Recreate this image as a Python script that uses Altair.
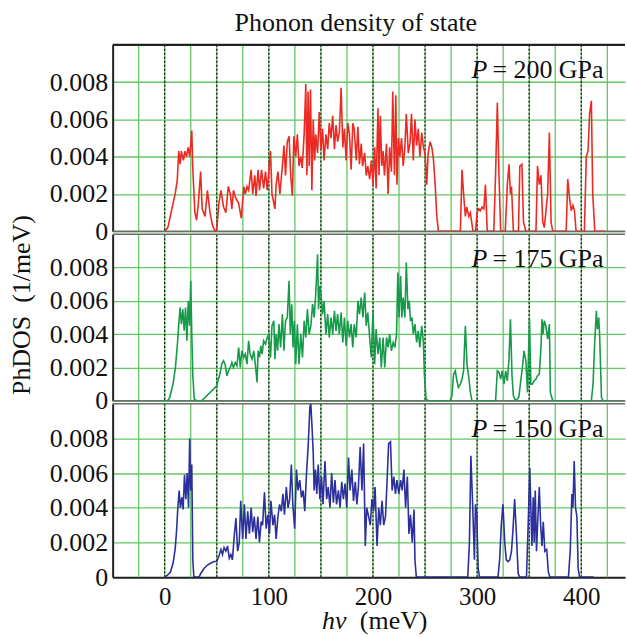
import altair as alt
import pandas as pd

# ---------------- data (energy meV, PhDOS in 1e-3 / meV) ----------------
x_grid = list(range(-25, 426, 25))
x_dotted = list(range(0, 401, 50))
y_ticks = [0, 0.002, 0.004, 0.006, 0.008]
x_labels = [0, 100, 200, 300, 400]

dos_200 = [
    (0, 0), (3, 0.2), (8, 1.5), (10, 2.0), (12, 2.7), (13.5, 4.3), (14.8, 3.6), (16, 4.3), (18, 3.8),
    (19.4, 4.3), (21, 4.0), (22.5, 4.5), (24, 4.0), (26, 5.4), (26.8, 3.6), (27.7, 2.5), (29, 1.0),
    (30.6, 0.6), (32.3, 1.5), (34.5, 3.2), (36, 1.2), (38.7, 0.8), (41, 2.2), (43.5, 1.0), (46, 0.3),
    (48.4, 0.0), (50, 0.1), (52, 1.5), (54, 2.2), (56.5, 1.3), (58.7, 1.0), (61, 2.4), (63, 2.0),
    (64.5, 1.2), (66, 2.2), (68, 1.8), (71, 1.5), (73.5, 0.7), (76, 2.4), (77.4, 2.0), (79, 2.4),
    (80.6, 2.2), (83, 3.3), (84.5, 2.0), (86.5, 3.0), (87.7, 1.9), (89.7, 3.3), (91, 2.2), (93, 3.3),
    (95, 2.3), (96.8, 3.2), (98.4, 2.2), (101.6, 4.3), (103, 2.0), (105.8, 1.2), (107, 2.5), (108.7, 3.2),
    (110.6, 2.0), (113, 3.5), (114.5, 4.6), (116, 3.0), (117.7, 4.8), (119.4, 5.1), (121, 3.0),
    (122.6, 1.9), (124, 5.1), (125.8, 4.0), (127.4, 5.2), (129, 3.5), (130.6, 4.0), (132, 3.4),
    (133.9, 5.2), (135.5, 7.9), (136.5, 3.0), (137.7, 7.5), (138.7, 3.5), (140, 7.6), (141.3, 2.2),
    (142.6, 6.0), (144, 3.8), (145, 5.2), (146.8, 4.2), (148.4, 6.4), (150, 4.4), (151.6, 5.5),
    (153, 3.8), (154.8, 5.2), (156.5, 4.4), (158, 5.8), (159.7, 5.0), (161.3, 6.2), (163, 4.4),
    (164.5, 5.7), (166, 4.8), (167.7, 5.3), (169.4, 7.7), (171, 4.5), (172.6, 5.5), (174.2, 3.8),
    (175.8, 5.8), (177.4, 5.2), (179, 3.3), (180.6, 5.8), (182, 5.5), (183.9, 3.8), (185.5, 5.6),
    (187, 3.6), (188.7, 4.7), (190, 3.5), (192, 4.2), (193.5, 3.0), (195, 3.5), (196.8, 2.8),
    (198.4, 3.8), (200, 2.5), (201.6, 4.5), (203, 2.3), (204.8, 6.6), (205.8, 3.0), (207, 6.2),
    (208.4, 3.5), (209.7, 4.3), (211, 3.0), (213, 4.7), (214.5, 2.0), (216, 4.5), (217.7, 3.2),
    (219, 7.5), (220.6, 3.0), (221.9, 7.3), (223, 2.5), (224.5, 5.0), (225.8, 4.0), (227.4, 5.0),
    (229, 3.5), (230.6, 4.5), (232, 6.3), (233.9, 4.2), (235.5, 4.7), (237, 6.3), (238.7, 3.8),
    (240.3, 6.0), (241.9, 4.6), (243.5, 5.5), (245, 4.0), (246.8, 5.3), (248.4, 4.5), (250, 4.2),
    (251.6, 2.5), (253, 4.2), (254.8, 4.8), (256.5, 4.5), (258, 3.9), (259.7, 2.5), (261.3, 0.8),
    (262.9, 0), (283.9, 0), (285.5, 3.3), (287, 2.0), (288.7, 0.8), (290, 1.3), (292, 0.8), (293.5, 1.0),
    (296, 0), (298.4, 0), (300, 1.0), (301.6, 1.2), (303, 1.1), (304.8, 1.3), (306.5, 1.2), (308, 2.5),
    (309.7, 0), (316, 0), (317.7, 3.0), (319.4, 6.9), (321, 3.0), (322.6, 0), (327, 0), (329, 2.5),
    (330.6, 3.6), (332, 2.0), (333, 2.4), (334.8, 0), (339.7, 0), (341, 3.5), (343, 3.6), (344.5, 0.5),
    (346.8, 0), (356.5, 0), (358, 3.5), (359.7, 2.5), (361.3, 3.0), (363, 0.5), (364.5, 0.2),
    (367.7, 2.0), (369.4, 5.3), (371, 0.5), (372.6, 0), (385.5, 0), (387, 2.8), (388.7, 1.8),
    (390.3, 1.1), (392, 1.4), (393.5, 1.1), (395, 0), (403, 0), (404.8, 4.0), (406.5, 4.3), (408, 6.3),
    (409.7, 7.0), (411, 2.0), (413, 0), (422.6, 0),
]

dos_175 = [
    (-4.8, 0), (3, 0), (4.8, 0.2), (8, 1.0), (10.3, 2.0), (12.3, 3.5), (13.5, 4.6), (14.8, 5.6),
    (16, 4.6), (17.4, 5.5), (18.7, 4.2), (20, 5.6), (21.3, 3.6), (22.6, 6.0), (23.9, 4.5), (25, 7.2),
    (26, 4.0), (27, 1.5), (28.4, 0.1), (30.6, 0), (35.5, 0), (50, 0.9), (51.6, 1.3), (53, 1.6),
    (54.8, 2.2), (56.5, 2.4), (58, 2.2), (59.7, 1.5), (61.3, 1.8), (63, 2.0), (64.5, 2.3), (66, 2.0),
    (67.7, 2.3), (69.4, 2.1), (71, 3.2), (72.6, 2.0), (74, 3.0), (75.8, 2.6), (77.4, 2.8), (79, 2.2),
    (80.6, 3.6), (82, 2.8), (83.9, 2.5), (85.5, 3.0), (87, 2.2), (88.7, 1.1), (89.7, 3.0), (91, 2.6),
    (92.3, 3.3), (93.5, 2.8), (95, 3.6), (96.8, 3.4), (98.4, 3.8), (100, 4.0), (101.6, 2.6), (103, 4.5),
    (104.8, 4.8), (105.8, 2.5), (107, 4.0), (108.4, 3.0), (109.7, 4.6), (111.3, 3.2), (113, 5.2),
    (114.5, 3.0), (116, 4.8), (117.7, 5.0), (119.4, 7.2), (120.6, 4.0), (122, 5.8), (123.2, 3.2),
    (124.5, 4.8), (125.8, 2.2), (127.4, 4.6), (129, 2.2), (130.6, 4.0), (132.3, 2.6), (133.9, 4.8),
    (135.5, 3.8), (137, 5.5), (138.7, 4.0), (140.3, 4.5), (142, 5.8), (143.5, 5.0), (145, 6.4),
    (146.8, 8.8), (147.7, 5.5), (149, 6.9), (150.3, 6.2), (151.6, 5.2), (153, 6.0), (154.8, 4.0),
    (156.5, 5.2), (158, 3.8), (159.7, 5.0), (161.3, 4.0), (163, 5.4), (164.5, 4.2), (166, 5.2),
    (167.7, 4.0), (169.4, 5.3), (171, 3.5), (172.6, 5.0), (174.2, 3.3), (175.8, 4.8), (177.4, 3.8),
    (179, 4.6), (180.6, 3.2), (182, 4.6), (183.9, 3.8), (185.5, 6.0), (187, 5.2), (188.7, 6.2),
    (190.3, 5.0), (192, 6.5), (193.5, 4.5), (195, 5.3), (196.8, 3.8), (198.4, 2.6), (200, 5.4),
    (201.6, 2.2), (203, 4.3), (204.8, 2.8), (206.5, 3.8), (208, 2.0), (209.7, 3.8), (211.3, 2.0),
    (213, 3.8), (214.5, 3.2), (216, 4.0), (217.7, 3.0), (219.4, 3.5), (221, 3.2), (222.6, 4.0),
    (223.9, 7.7), (225, 5.0), (226.5, 7.5), (227.7, 5.0), (229, 6.2), (230.6, 5.0), (232, 8.3),
    (233.5, 5.5), (234.8, 6.0), (236, 4.8), (237.4, 5.0), (238.7, 4.0), (240.3, 4.6), (241.9, 3.5),
    (243.5, 4.2), (245, 3.2), (246.8, 4.5), (248.4, 3.5), (249.4, 1.5), (251, 0.1), (253, 0),
    (274, 0), (275.8, 0.3), (277.4, 1.6), (279, 1.8), (280.6, 1.2), (282, 0.8), (283.9, 1.0),
    (285.5, 1.3), (287, 1.8), (288.7, 4.5), (290.3, 2.2), (292, 1.4), (293.5, 0.5), (295, 0),
    (317.7, 0), (319.4, 1.8), (321, 1.7), (322.6, 1.3), (324, 1.8), (325.8, 1.0), (327.4, 1.8),
    (329, 1.2), (330.6, 2.5), (332, 4.9), (333.5, 1.5), (334.8, 0.3), (337, 0), (340, 0.2),
    (341.9, 1.2), (343.5, 2.0), (345, 3.0), (346.8, 2.4), (348.4, 0.5), (349.4, 3.0), (350.3, 4.9),
    (351.6, 1.0), (353, 1.0), (354.8, 1.2), (356.5, 1.3), (358, 1.5), (359.7, 1.6), (361.3, 3.2),
    (362.3, 4.9), (363.2, 4.0), (364.5, 4.8), (366, 4.5), (367.7, 3.7), (369.4, 4.6), (370.3, 0.5),
    (372.6, 0), (409.7, 0), (411.3, 1.0), (412.9, 3.5), (414.5, 5.4), (415.5, 4.3), (416.8, 5.0),
    (417.7, 3.8), (419.4, 0.2), (421, 0), (427.4, 0),
]

dos_150 = [
    (0, 0), (2.3, 0.1), (5.5, 0.3), (8, 0.8), (10, 1.6), (11.3, 2.6), (12.6, 4.0), (13.9, 5.0),
    (15, 4.0), (16.5, 4.6), (17.7, 3.9), (19, 5.9), (20.3, 4.5), (21.6, 6.0), (22.9, 4.0), (24, 8.0),
    (25, 5.0), (26, 6.5), (27, 1.0), (28, 0), (33, 0), (34.5, 0.2), (37.7, 0.5), (41, 0.7), (44, 0.8),
    (47.4, 0.9), (50, 0.9), (52, 1.2), (54, 1.6), (55.5, 1.3), (57, 1.7), (58.7, 1.5), (60.3, 1.8),
    (62, 1.1), (63.5, 1.3), (65, 1.0), (66.8, 2.4), (68.4, 3.4), (70, 1.5), (71.6, 2.0), (73, 4.4),
    (74.8, 2.2), (76.5, 4.2), (78, 2.2), (79.7, 3.8), (81.3, 2.5), (83, 4.0), (84.5, 2.6), (86, 3.5),
    (87.7, 2.2), (89.4, 3.5), (91, 2.0), (92.6, 3.2), (94, 3.0), (95.8, 4.9), (97.4, 2.8), (99, 3.6),
    (100.6, 2.5), (102, 4.4), (103.9, 3.0), (105.5, 3.6), (107, 2.2), (108.7, 3.5), (110.3, 4.2),
    (112, 3.8), (113.5, 4.8), (115, 3.6), (116.8, 5.2), (118.4, 4.0), (120, 4.5), (121.6, 6.5),
    (123, 4.2), (124.8, 2.8), (126.5, 6.2), (128, 5.0), (129.7, 5.6), (131.3, 4.6), (132.9, 5.0),
    (134.5, 3.8), (136, 5.8), (137.7, 7.5), (139.4, 9.8), (140.3, 10.0), (141.6, 8.5), (142.6, 7.2),
    (143.5, 5.0), (144.8, 6.2), (146, 4.8), (147.4, 6.5), (149, 4.5), (150.6, 5.8), (152, 4.2),
    (153.9, 6.7), (155.5, 4.5), (157, 5.2), (158.7, 4.0), (160.3, 6.0), (162, 4.3), (163.5, 5.6),
    (165, 4.2), (166.8, 5.0), (168.4, 4.0), (170, 5.5), (171.6, 4.5), (173.2, 5.4), (174.8, 4.0),
    (176.5, 6.9), (178, 5.0), (179.7, 6.2), (181.3, 4.4), (183, 5.5), (184.5, 4.2), (186, 5.2),
    (187.7, 7.5), (189.4, 5.0), (191, 7.7), (192.6, 1.8), (194, 4.0), (195.8, 3.5), (197.4, 3.0),
    (199, 4.5), (200.6, 3.8), (202, 5.2), (203.9, 1.8), (205.5, 4.0), (207, 3.0), (208.7, 4.4),
    (210.3, 3.0), (212, 3.5), (213.5, 5.5), (215, 7.7), (216.8, 7.8), (218.4, 5.0), (220, 5.8),
    (221.6, 4.8), (223, 5.6), (224.8, 4.8), (226.5, 5.6), (228, 5.0), (229.7, 6.2), (231.3, 4.0),
    (233, 5.8), (234.5, 2.5), (236, 3.6), (237.7, 2.0), (239.4, 3.9), (240.3, 1.0), (241.6, 0),
    (291, 0), (292.6, 2.0), (294, 7.0), (295.8, 4.0), (297.4, 1.0), (298.4, 4.2), (299.7, 3.5),
    (301, 0.5), (302.3, 0), (320, 0), (321.6, 1.0), (323.2, 3.0), (324.8, 4.2), (326.5, 2.0),
    (328, 1.0), (329.7, 0.9), (331.3, 1.0), (333, 1.5), (334.5, 2.8), (336, 4.5), (337.7, 2.5),
    (339.4, 0.2), (341, 0), (347.4, 0), (349, 3.0), (350.6, 6.3), (351.6, 4.0), (352.6, 1.8),
    (353.9, 4.6), (354.8, 2.0), (355.8, 5.0), (357, 1.5), (358.4, 3.5), (359.7, 5.2), (361, 3.0),
    (362.3, 1.8), (363.5, 3.2), (365, 1.5), (366.8, 1.6), (368.4, 0.3), (370, 0), (387.7, 0),
    (389.4, 1.5), (391, 4.8), (392, 4.0), (393.2, 6.7), (394.5, 4.0), (395.8, 3.5), (397, 0.5),
    (398.4, 0), (412, 0),
]

labels = ["200", "175", "150"]
colors = ["#ec2a23", "#179a4a", "#2c309c"]

# ---------------- styling ----------------
FONT = "Liberation Serif"
GRID = "#63c763"
W = 514
HEIGHTS = [187, 167, 174]
xscale = alt.Scale(domain=[-50, 442], nice=False, zero=False)
yscale = alt.Scale(domain=[0, 0.01], nice=False, zero=True)


def text_layer(txt, x, y, size=26, italic=False, align="left", angle=0, baseline="alphabetic"):
    kw = dict(font=FONT, fontSize=size, color="#111", align=align, baseline=baseline)
    if italic:
        kw["fontStyle"] = "italic"
    if angle:
        kw["angle"] = angle
    return alt.Chart(pd.DataFrame({"t": [txt]})).mark_text(**kw).encode(
        text="t:N", x=alt.value(x), y=alt.value(y)
    )


def panel(idx, series):
    h = HEIGHTS[idx]
    bottom = idx == 2
    df = pd.DataFrame(series, columns=["e", "d"])
    df["d"] = df["d"] / 1000.0

    if bottom:
        xaxis = alt.Axis(
            values=x_labels, grid=False, ticks=False,
            domain=True, domainColor="#222", domainWidth=2,
            labelFont=FONT, labelFontSize=25, labelColor="#111",
            labelPadding=7, labelOverlap=False, labelFlush=False, format="d", title=None,
        )
    else:
        xaxis = None
    yaxis = alt.Axis(
        values=y_ticks, grid=True, gridColor=GRID, gridWidth=1.3, ticks=False,
        domainColor="#222", domainWidth=2,
        labelFont=FONT, labelFontSize=26, labelColor="#111", labelPadding=5,
        labelExpr="datum.value == 0 ? '0' : format(datum.value, '.3f')", title=None,
    )

    vgrid = alt.Chart(pd.DataFrame({"e": x_grid})).mark_rule(
        color=GRID, strokeWidth=1.3
    ).encode(x=alt.X("e:Q", scale=xscale, axis=xaxis))
    dotted = alt.Chart(pd.DataFrame({"e": x_dotted})).mark_rule(
        color="#111", strokeWidth=1.2, strokeDash=[2, 2]
    ).encode(x=alt.X("e:Q", scale=xscale, axis=xaxis))
    line = alt.Chart(df).mark_line(color=colors[idx], strokeWidth=1.6, clip=True).encode(
        x=alt.X("e:Q", scale=xscale, axis=xaxis),
        y=alt.Y("d:Q", scale=yscale, axis=yaxis),
    )

    top_col = "#222" if idx == 0 else "#6d6d6d"
    top_w = 2.2 if idx == 0 else 1.6
    top_rule = alt.Chart(pd.DataFrame({"v": [0]})).mark_rule(color=top_col, strokeWidth=top_w).encode(
        y=alt.value(0)
    )
    layers = [vgrid, dotted, top_rule]
    if not bottom:
        bot_rule = alt.Chart(pd.DataFrame({"v": [0]})).mark_rule(color="#6d6d6d", strokeWidth=1.6).encode(
            y=alt.value(h)
        )
        layers.append(bot_rule)
    layers.append(line)
    layers.append(text_layer("P", 360, 33, italic=True))
    layers.append(text_layer("= " + labels[idx] + " GPa", 381, 33))
    if idx == 0:
        layers.append(text_layer("Phonon density of state", 244, -14, align="center"))
    if idx == 1:
        layers.append(text_layer("PhDOS\u00a0\u00a0(1/meV)", -91, 71, align="center", angle=270, baseline="middle"))
    if bottom:
        layers.append(text_layer("hv", 210, 226, italic=True))
        layers.append(text_layer("(meV)", 248, 226))
    return alt.layer(*layers).properties(width=W, height=h)


p1 = panel(0, dos_200)
p2 = panel(1, dos_175)
p3 = panel(2, dos_150)

chart = alt.vconcat(p1, p2, p3, spacing=3, bounds="flush").properties(
    padding={"left": 9, "top": 9, "right": 0, "bottom": 0},
    background="white",
).configure_view(stroke=None)

chart.save("out.html", embed_options={"renderer": "svg", "actions": False})
